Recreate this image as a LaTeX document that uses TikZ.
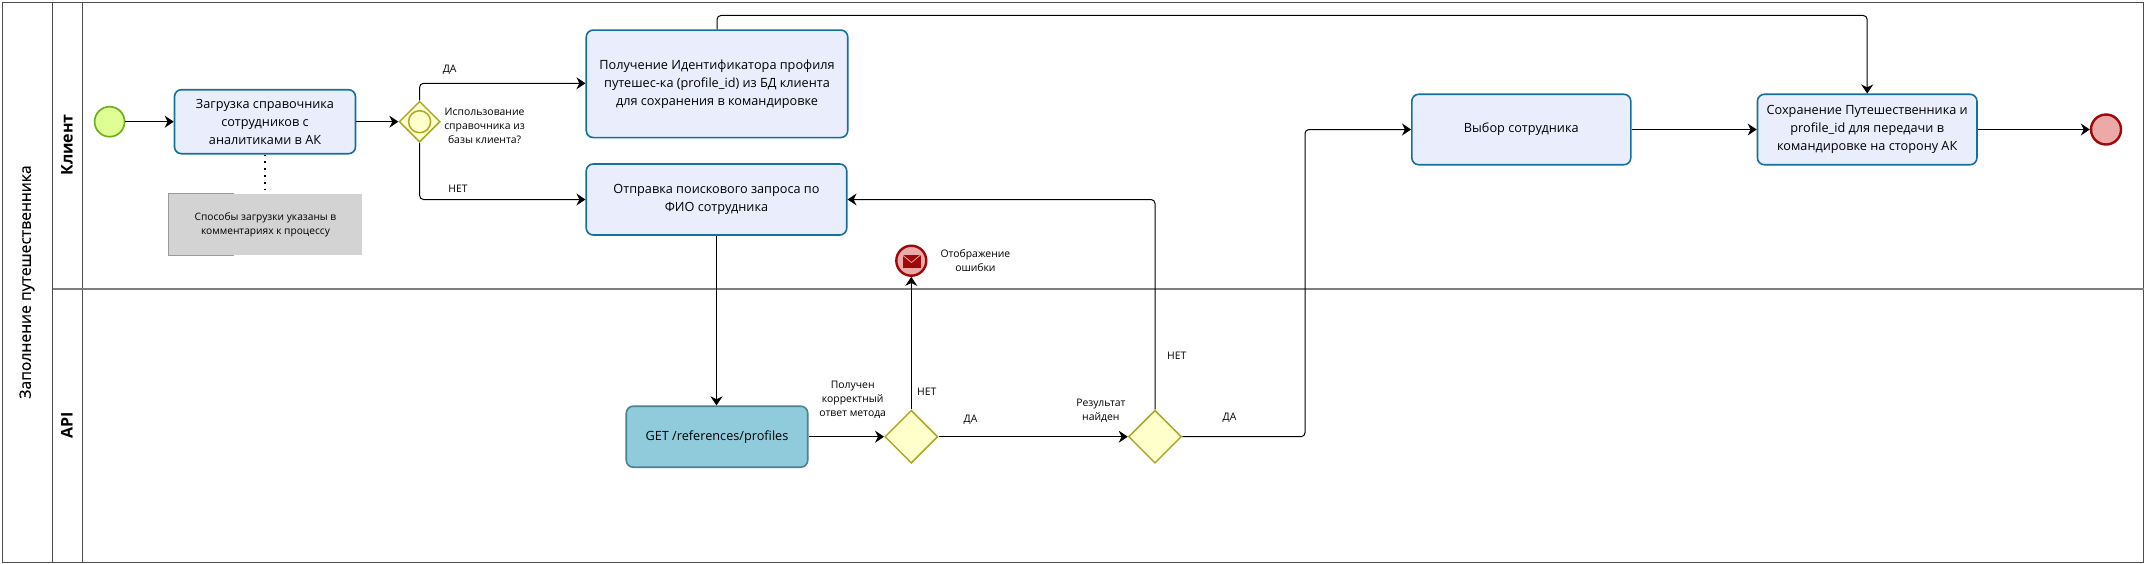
\documentclass[tikz,border=0pt]{standalone}
\usepackage{fontspec}
\setmainfont{Open Sans}
\newfontfamily\titlefont[FakeBold=0.3]{Open Sans}
\usetikzlibrary{shapes.geometric,arrows.meta,calc}
\definecolor{taskfill}{HTML}{EAEEFC}
\definecolor{taskline}{HTML}{13709F}
\definecolor{apifill}{HTML}{8FCBDB}
\definecolor{apiline}{HTML}{4A8394}
\definecolor{gwfill}{HTML}{FFFFCC}
\definecolor{gwline}{HTML}{A9A927}
\definecolor{startfill}{HTML}{DFFF95}
\definecolor{startline}{HTML}{6FAE1E}
\definecolor{endfill}{HTML}{EDA8A8}
\definecolor{endline}{HTML}{A00808}
\definecolor{notefill}{HTML}{D3D3D3}
\definecolor{noteline}{HTML}{9A9A9A}
\definecolor{frameline}{HTML}{4D4D4D}
\definecolor{laneline}{HTML}{7F7F7F}
\tikzset{
  x=1pt,y=-1pt,
  box/.style={rectangle,rounded corners=7pt,line width=1.6pt,align=center,inner sep=0pt},
  taskbox/.style={box,draw=taskline,fill=taskfill,font=\fontsize{12.7}{18}\selectfont},
  apibox/.style={box,draw=apiline,fill=apifill,font=\fontsize{12.7}{18}\selectfont},
  gateway/.style={diamond,aspect=1,draw=gwline,fill=gwfill,line width=1.5pt,inner sep=0pt,minimum width=53pt,minimum height=53pt},
  startev/.style={circle,draw=startline,fill=startfill,line width=1.7pt,inner sep=0pt,minimum size=30pt},
  endev/.style={circle,draw=endline,fill=endfill,line width=2.4pt,inner sep=0pt,minimum size=30pt},
  flow/.style={draw=black,line width=1pt,rounded corners=4pt,-{Stealth[length=9pt,width=12pt]}},
  lbl/.style={font=\fontsize{10.4}{14}\selectfont,align=center,inner sep=0pt},
  swim/.style={font=\fontsize{16}{18}\selectfont\bfseries,rotate=90,inner sep=0pt},
}
\begin{document}
\begin{tikzpicture}
\useasboundingbox (0,0) rectangle (2145,563);
% pool frame
\node[draw=frameline,line width=1pt,minimum width=2141pt,minimum height=560pt,inner sep=0pt] (pool) at (1073,282) {};
\coordinate (c1t) at (52.5,2.5); \coordinate (c1b) at (52.5,562);
\coordinate (c2t) at (82.5,2.5); \coordinate (c2b) at (82.5,562);
\coordinate (ll) at (52.5,289); \coordinate (lr) at (2143.5,289);
\draw[frameline,line width=0.9pt] (c1t) -- (c1b);
\draw[frameline,line width=0.9pt] (c2t) -- (c2b);
\draw[laneline,line width=1.6pt] (ll) -- (lr);
\node[swim,font=\fontsize{15.7}{18}\titlefont] (title) at (27,282) {Заполнение путешественника};
\node[swim] (l1) at (67,145) {Клиент};
\node[swim] (l2) at (67,425) {API};
% events
\node[startev] (start) at (109.6,121.7) {};
\node[endev] (stop) at (2106,129.5) {};
\node[endev] (msg) at (911.3,260.7) {};
\fill[endline] (902.5,255) rectangle (920.5,267.5);
\draw[endfill,line width=0.8pt] (902.5,255) -- (911.5,262.5) -- (920.5,255);
% tasks
\node[taskbox,minimum width=181pt,minimum height=64pt] (t1) at (265,121.7) {Загрузка справочника\\сотрудников с\\аналитиками в АК};
\node[taskbox,minimum width=261.5pt,minimum height=107.5pt] (t2) at (717,83.8) {Получение Идентификатора профиля\\путешес-ка (profile\_id) из БД клиента\\для сохранения в командировке};
\node[taskbox,minimum width=260.5pt,minimum height=71pt] (t3) at (716.5,199.5) {Отправка поискового запроса по\\ФИО сотрудника};
\node[taskbox,minimum width=219pt,minimum height=70.5pt] (t4) at (1521.3,129.5) {Выбор сотрудника};
\node[taskbox,minimum width=219.5pt,minimum height=70.5pt] (t5) at (1867.2,129.5) {Сохранение Путешественника и\\profile\_id для передачи в\\командировке на сторону АК};
\node[apibox,minimum width=181.5pt,minimum height=61pt] (api) at (717,436.7) {GET /references/profiles};
% gateways
\node[gateway,minimum width=41pt,minimum height=41pt] (g1) at (419.6,121.7) {};
\node[circle,draw=gwline,fill=gwfill,line width=1.5pt,minimum size=22pt,inner sep=0pt] (g1i) at (419.6,121.7) {};
\node[gateway] (g2) at (911.3,436.7) {};
\node[gateway] (g3) at (1155,436.7) {};
% note
\node[rectangle,fill=notefill,minimum width=193pt,minimum height=61pt,inner sep=0pt,align=center,font=\fontsize{10.2}{14}\selectfont] (note) at (265.5,224.5) {Способы загрузки указаны в\\комментариях к процессу};
\draw[noteline,line width=1pt] ($(note.north west)+(65,0)$) -- (note.north west) -- (note.south west) -- ($(note.south west)+(65,0)$);
\draw[black,line width=1.8pt,dash pattern=on 1.8pt off 5pt] (t1.south) -- (t1.south |- note.north);
% flows
\draw[flow] (start) -- (t1);
\draw[flow] (t1.east) -- (g1.west);
\draw[flow] (g1.north) |- (t2.west |- 0,83.3);
\draw[flow] (g1.south) |- (t3.west);
\coordinate (topbend) at ($(t5.north)+(0,-78)$);
\draw[flow] (t2.north) |- (topbend) -- (t5.north);
\draw[flow] (t3.south) -- (t3.south |- api.north);
\draw[flow] (api.east) -- (g2.west);
\draw[flow] (g2.north) -- (msg.south);
\draw[flow] (g2.east) -- (g3.west);
\draw[flow] (g3.north) |- (t3.east);
\coordinate (g3bend) at (1305,436.7);
\draw[flow] (g3.east) -- (g3bend) |- (t4.west);
\draw[flow] (t4.east) -- (t5.west);
\draw[flow] (t5.east) -- (stop.west);
% labels
\node[lbl] (a1) at (449.6,70) {ДА};
\node[lbl] (a2) at (458,189) {НЕТ};
\node[lbl] (a3) at (484.6,126.3) {Использование\\справочника из\\базы клиента?};
\node[lbl] (a4) at (975.4,260.3) {Отображение\\ошибки};
\node[lbl] (a5) at (852.7,399.5) {Получен\\корректный\\ответ метода};
\node[lbl] (a6) at (926.8,392) {НЕТ};
\node[lbl] (a7) at (970.5,420) {ДА};
\node[lbl] (a8) at (1100.9,410.5) {Результат\\найден};
\node[lbl] (a9) at (1176.8,356) {НЕТ};
\node[lbl] (a10) at (1229.5,418) {ДА};
\end{tikzpicture}
\end{document}
